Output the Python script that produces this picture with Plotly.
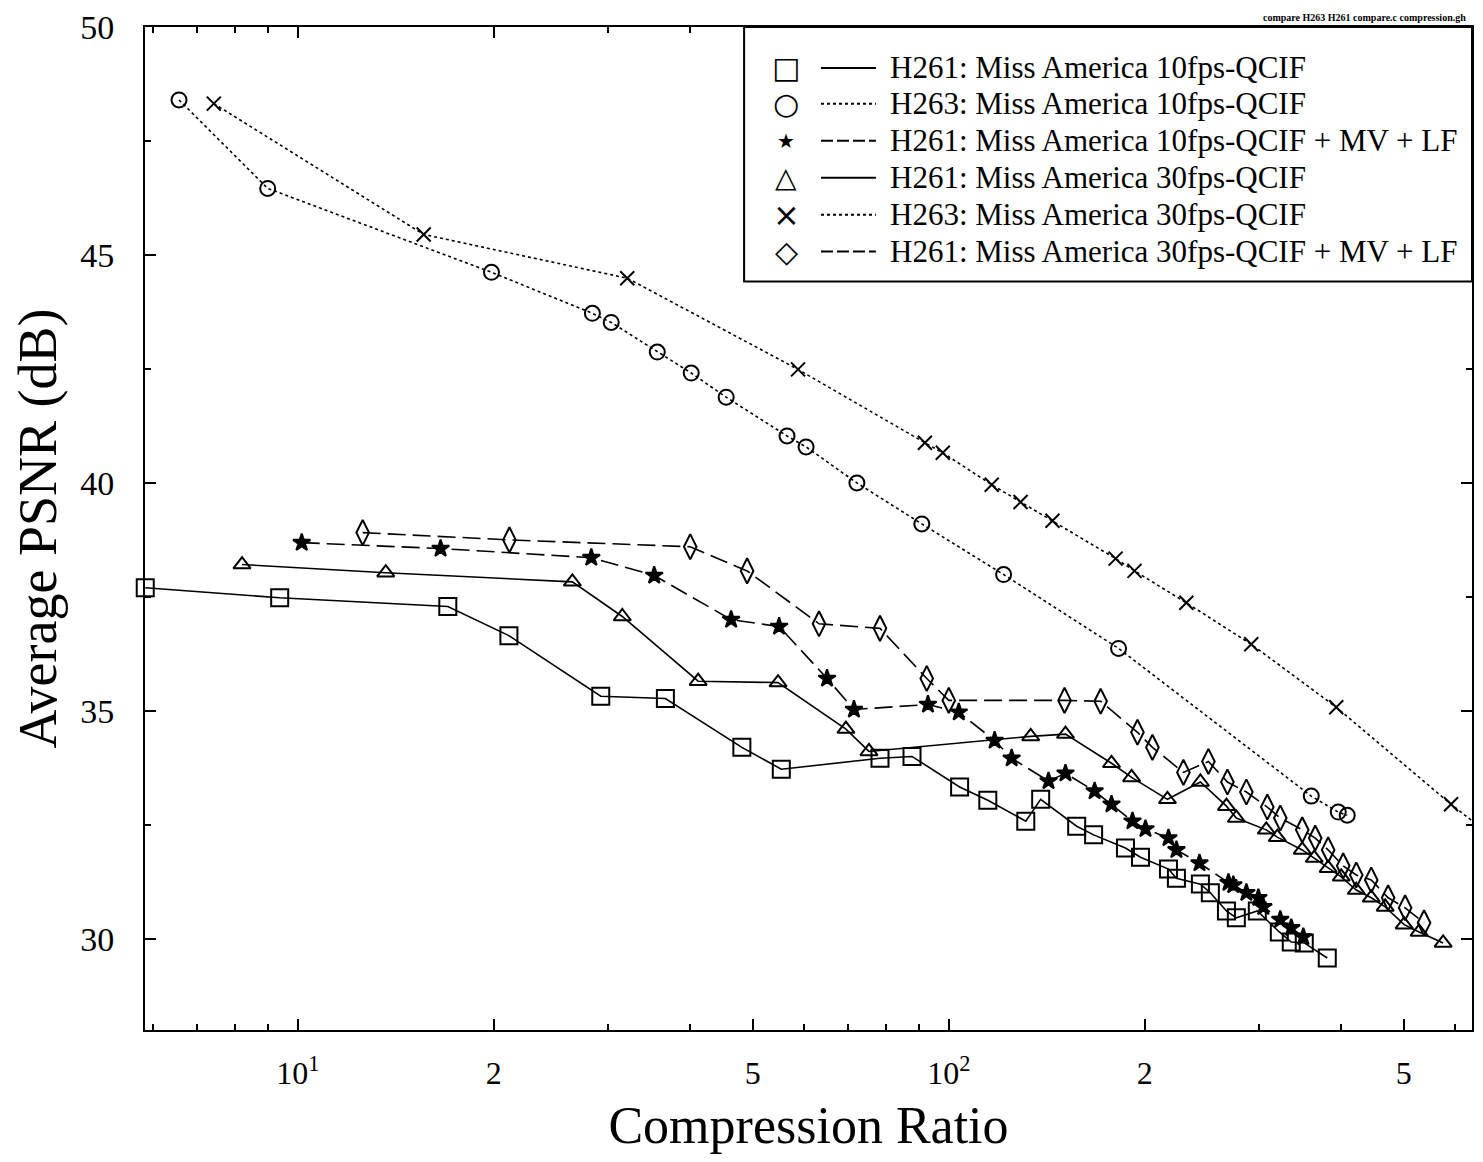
import plotly.graph_objects as go

# ---------------- data ----------------
h261_10_x = [5.83, 9.38, 17.0, 21.1, 29.2, 36.7, 48.1, 55.3, 78.4, 87.8, 103.9, 114.8, 131.3, 138.4,
             157.2, 166.9, 186.8, 197.0, 217.5, 223.7, 243.5, 252.2, 267.0, 276.5, 297.8, 321.9,
             335.8, 351.6, 381.4]
h261_10_y = [37.70, 37.48, 37.29, 36.65, 35.32, 35.27, 34.20, 33.72, 33.96, 34.00, 33.33, 33.04,
             32.58, 33.06, 32.47, 32.28, 31.99, 31.79, 31.53, 31.33, 31.20, 31.01, 30.61, 30.46,
             30.61, 30.15, 29.93, 29.91, 29.58]

h263_10_x = [6.57, 8.99, 19.84, 28.35, 30.30, 35.66, 40.21, 45.50, 56.43, 60.36, 72.25, 90.9,
             121.4, 182.3, 360.4, 396.5, 409.3]
h263_10_y = [48.40, 46.46, 44.62, 43.72, 43.52, 42.87, 42.41, 41.88, 41.03, 40.79, 40.00, 39.10,
             37.99, 36.37, 33.13, 32.78, 32.71]

h261_10mv_x = [10.14, 16.57, 28.24, 35.28, 46.31, 54.87, 65.01, 71.5, 92.9, 103.6, 117.6, 124.9,
               142.3, 151.1, 167.5, 177.8, 191.5, 200.5, 217.5, 223.7, 242.7, 268.9, 273.6, 286.5,
               298.9, 304.2, 323.0, 335.8, 350.4]
h261_10mv_y = [38.69, 38.56, 38.36, 37.97, 37.00, 36.85, 35.71, 35.03, 35.14, 34.97, 34.35, 33.96,
               33.46, 33.63, 33.24, 32.95, 32.58, 32.41, 32.21, 31.95, 31.66, 31.23, 31.18, 31.01,
               30.90, 30.70, 30.42, 30.24, 30.04]

h261_30_x = [8.21, 13.65, 26.41, 31.51, 41.21, 54.67, 69.50, 75.40, 133.6, 151.1, 177.8, 190.9,
             216.7, 243.5, 267.0, 276.5, 307.4, 319.6, 349.1, 364.2, 382.6, 400.7, 422.6, 445.6,
             468.1, 500.6, 527.8, 574.6]
h261_30_y = [38.21, 38.03, 37.83, 37.07, 35.65, 35.62, 34.60, 34.11, 34.44, 34.49, 33.85, 33.54,
             33.06, 33.44, 32.91, 32.65, 32.39, 32.23, 31.95, 31.77, 31.55, 31.36, 31.07, 30.90,
             30.70, 30.31, 30.15, 29.91]

h263_30_x = [7.43, 15.61, 32.07, 58.67, 91.9, 97.9, 116.4, 128.9, 144.3, 180.4, 192.9, 231.7,
             291.5, 393.7, 590.9, 652.2]
h263_30_y = [48.32, 45.45, 44.49, 42.49, 40.88, 40.66, 39.96, 39.58, 39.17, 38.34, 38.07, 37.37,
             36.46, 35.08, 32.95, 32.47]

h261_30mv_x = [12.58, 21.14, 40.07, 49.00, 63.19, 78.4, 92.5, 100.0, 150.6, 171.1, 194.9, 205.5,
               229.3, 250.5, 267.9, 286.5, 308.5, 323.0, 349.1, 365.5, 382.6, 403.5, 422.6, 445.6,
               473.0, 502.3, 537.1]
h261_30mv_y = [38.91, 38.75, 38.60, 38.07, 36.91, 36.81, 35.71, 35.23, 35.23, 35.21, 34.53, 34.20,
               33.65, 33.89, 33.44, 33.22, 32.89, 32.65, 32.39, 32.21, 31.95, 31.60, 31.40, 31.29,
               30.90, 30.68, 30.35]

series_names = [
    "H261: Miss America 10fps-QCIF",
    "H263: Miss America 10fps-QCIF",
    "H261: Miss America 10fps-QCIF + MV + LF",
    "H261: Miss America 30fps-QCIF",
    "H263: Miss America 30fps-QCIF",
    "H261: Miss America 30fps-QCIF + MV + LF",
]
x_tick_vals = [10, 20, 50, 100, 200, 500]
x_tick_text = ["10<sup>1</sup>", "2", "5", "10<sup>2</sup>", "2", "5"]
x_minor_vals = [6, 7, 8, 9, 30, 40, 60, 70, 80, 90, 300, 400, 600]
y_tick_vals = [30, 35, 40, 45, 50]

# ---------------- styling ----------------
SERIF = "Liberation Serif, Times New Roman, serif"
styles = [
    dict(sym="square-open", size=17, dash="solid", lw=1.6, glyph="\u25a1", gsize=30, ldash="solid"),
    dict(sym="circle-open", size=15, dash="dot", lw=1.6, glyph="\u25cb", gsize=30, ldash="dot"),
    dict(sym="star", size=13, dash="18px,7px", lw=1.6, glyph="\u2605", gsize=20, ldash="12px,4px"),
    dict(sym="triangle-up-open", size=15, dash="solid", lw=1.6, glyph="\u25b3", gsize=28, ldash="solid"),
    dict(sym="x-thin-open", size=14, dash="dot", lw=1.6, glyph="\u00d7", gsize=32, ldash="dot"),
    dict(sym="diamond-tall-open", size=18, dash="18px,7px", lw=1.6, glyph="\u25c7", gsize=30, ldash="12px,4px"),
]
data = [
    (h261_10_x, h261_10_y),
    (h263_10_x, h263_10_y),
    (h261_10mv_x, h261_10mv_y),
    (h261_30_x, h261_30_y),
    (h263_30_x, h263_30_y),
    (h261_30mv_x, h261_30mv_y),
]

fig = go.Figure()
for i, ((xs, ys), name, st) in enumerate(zip(data, series_names, styles)):
    fig.add_trace(go.Scatter(
        x=xs, y=ys, name=name, mode="lines+markers",
        line=dict(color="black", width=st["lw"], dash=st["dash"]),
        marker=dict(symbol=st["sym"], size=st["size"], color="black",
                    line=dict(color="black", width=2)),
        cliponaxis=(i != 0), showlegend=False,
    ))

# the page body has an 8px margin; the figure is sized to fit inside it
OFF = 8
W, H = 1467, 1146
L, R, T, B = 137, 1, 17, 124
pw, ph = W - L - R, H - T - B


def px(xp):
    return (xp - OFF - L) / pw


def py(yp):
    return (H - B - (yp - OFF)) / ph


shapes = []
annotations = []
# custom legend box
shapes.append(dict(type="rect", xref="paper", yref="paper",
                   x0=px(745), x1=1.0, y0=py(280), y1=py(25),
                   line=dict(color="black", width=2), fillcolor="white", layer="above"))
row_y = [66, 102, 139, 176, 213, 250]
for i, (name, st) in enumerate(zip(series_names, styles)):
    yy = py(row_y[i])
    shapes.append(dict(type="line", xref="paper", yref="paper",
                       x0=px(822), x1=px(877), y0=yy, y1=yy,
                       line=dict(color="black", width=2, dash=st["ldash"]),
                       layer="above"))
    annotations.append(dict(xref="paper", yref="paper", x=px(787), y=yy,
                            text=st["glyph"], showarrow=False,
                            font=dict(family="DejaVu Sans", size=st["gsize"], color="black"),
                            xanchor="center", yanchor="middle"))
    annotations.append(dict(xref="paper", yref="paper", x=px(889), y=yy,
                            text=name, showarrow=False,
                            font=dict(family=SERIF, size=31, color="black"),
                            xanchor="left", yanchor="middle"))

# tiny header text top-right
annotations.append(dict(xref="paper", yref="paper", x=px(1470), y=py(15),
                        text="<b>compare H263 H261 compare.c compression.gh</b>",
                        showarrow=False, font=dict(family=SERIF, size=10, color="black"),
                        xanchor="right", yanchor="middle"))

fig.update_layout(
    width=W, height=H,
    margin=dict(l=L, r=R, t=T, b=B),
    paper_bgcolor="white", plot_bgcolor="white",
    font=dict(family=SERIF, color="black"),
    shapes=shapes, annotations=annotations,
    showlegend=False,
)
fig.update_xaxes(
    type="log", range=[0.7653, 2.8037],
    tickmode="array", tickvals=x_tick_vals, ticktext=x_tick_text,
    ticks="inside", ticklen=11, tickwidth=1.5, tickcolor="black",
    minor=dict(tickmode="array", tickvals=x_minor_vals, ticks="inside",
               ticklen=6, tickwidth=1.5, tickcolor="black", showgrid=False),
    showline=True, linecolor="black", linewidth=2, mirror="ticks",
    showgrid=False, zeroline=False,
    tickfont=dict(family=SERIF, size=32, color="black"),
    ticklabelstandoff=14, ticklabeloverflow="allow",
    title=dict(text="Compression Ratio", font=dict(family=SERIF, size=52, color="black"),
               standoff=18),
)
fig.update_yaxes(
    range=[28, 50],
    tickmode="array", tickvals=y_tick_vals,
    ticks="inside", ticklen=11, tickwidth=1.5, tickcolor="black",
    minor=dict(dtick=2.5, tick0=0, ticks="inside", ticklen=6, tickwidth=1.5,
               tickcolor="black", showgrid=False),
    showline=True, linecolor="black", linewidth=2, mirror="ticks",
    showgrid=False, zeroline=False,
    tickfont=dict(family=SERIF, size=34, color="black"),
    ticklabelstandoff=22, ticklabeloverflow="allow",
    title=dict(text="Average PSNR (dB)", font=dict(family=SERIF, size=54, color="black"),
               standoff=16),
)

fig.write_html("out.html")
